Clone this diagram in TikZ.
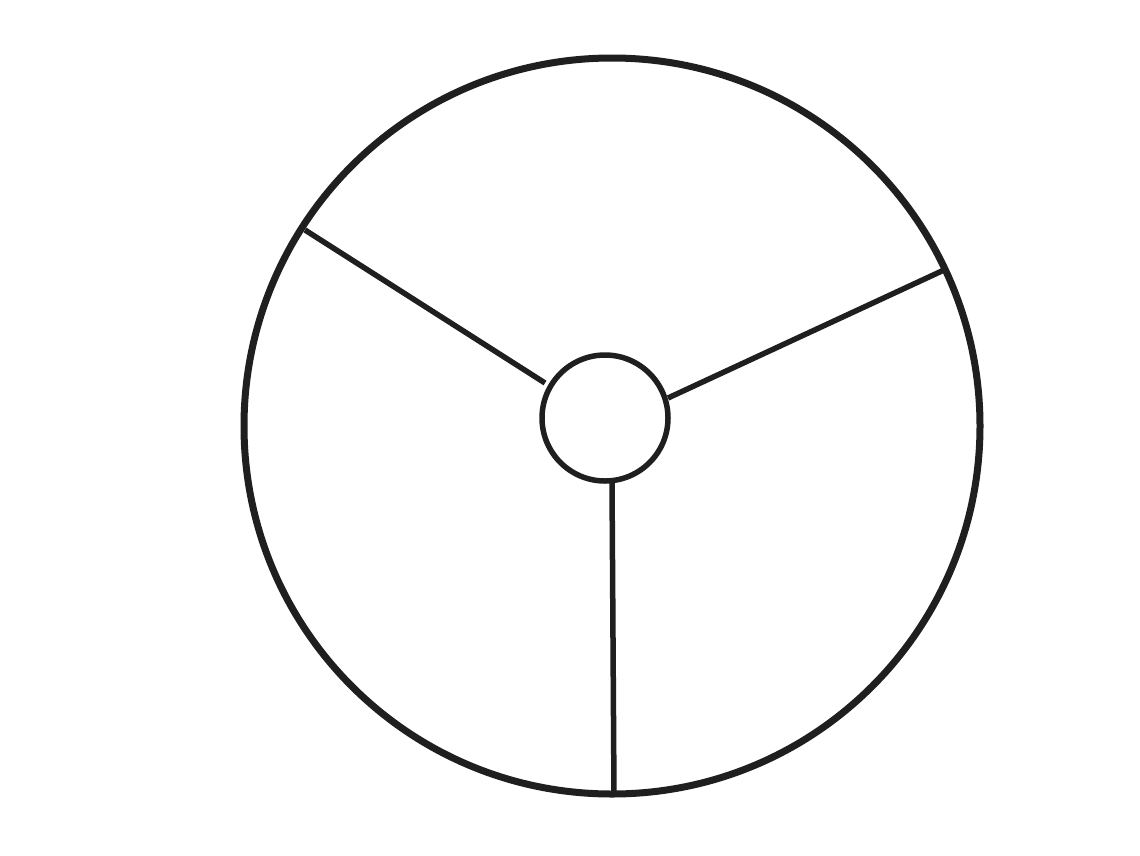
\documentclass[tikz,border=0pt]{standalone}
\begin{document}
\begin{tikzpicture}[x=1pt,y=-1pt,
  rim/.style={draw=black!88,line width=7pt},
  spoke/.style={draw=black!88,line width=5.5pt}]
\useasboundingbox (0,0) rectangle (1140,855);
\fill[white] (0,0) rectangle (1140,855);
\coordinate (c) at (612,426);
\coordinate (h) at (605,418);
\draw[rim] (c) circle (368);
\draw[spoke] (h) circle (63);
\coordinate (s1) at (545,383);
\coordinate (e1) at (305,230);
\coordinate (s2) at (668,398);
\coordinate (e2) at (944,270);
\coordinate (s3) at (612,483);
\coordinate (e3) at (614,795);
\draw[spoke] (s1) -- (e1);
\draw[spoke] (s2) -- (e2);
\draw[spoke] (s3) -- (e3);
\end{tikzpicture}
\end{document}
